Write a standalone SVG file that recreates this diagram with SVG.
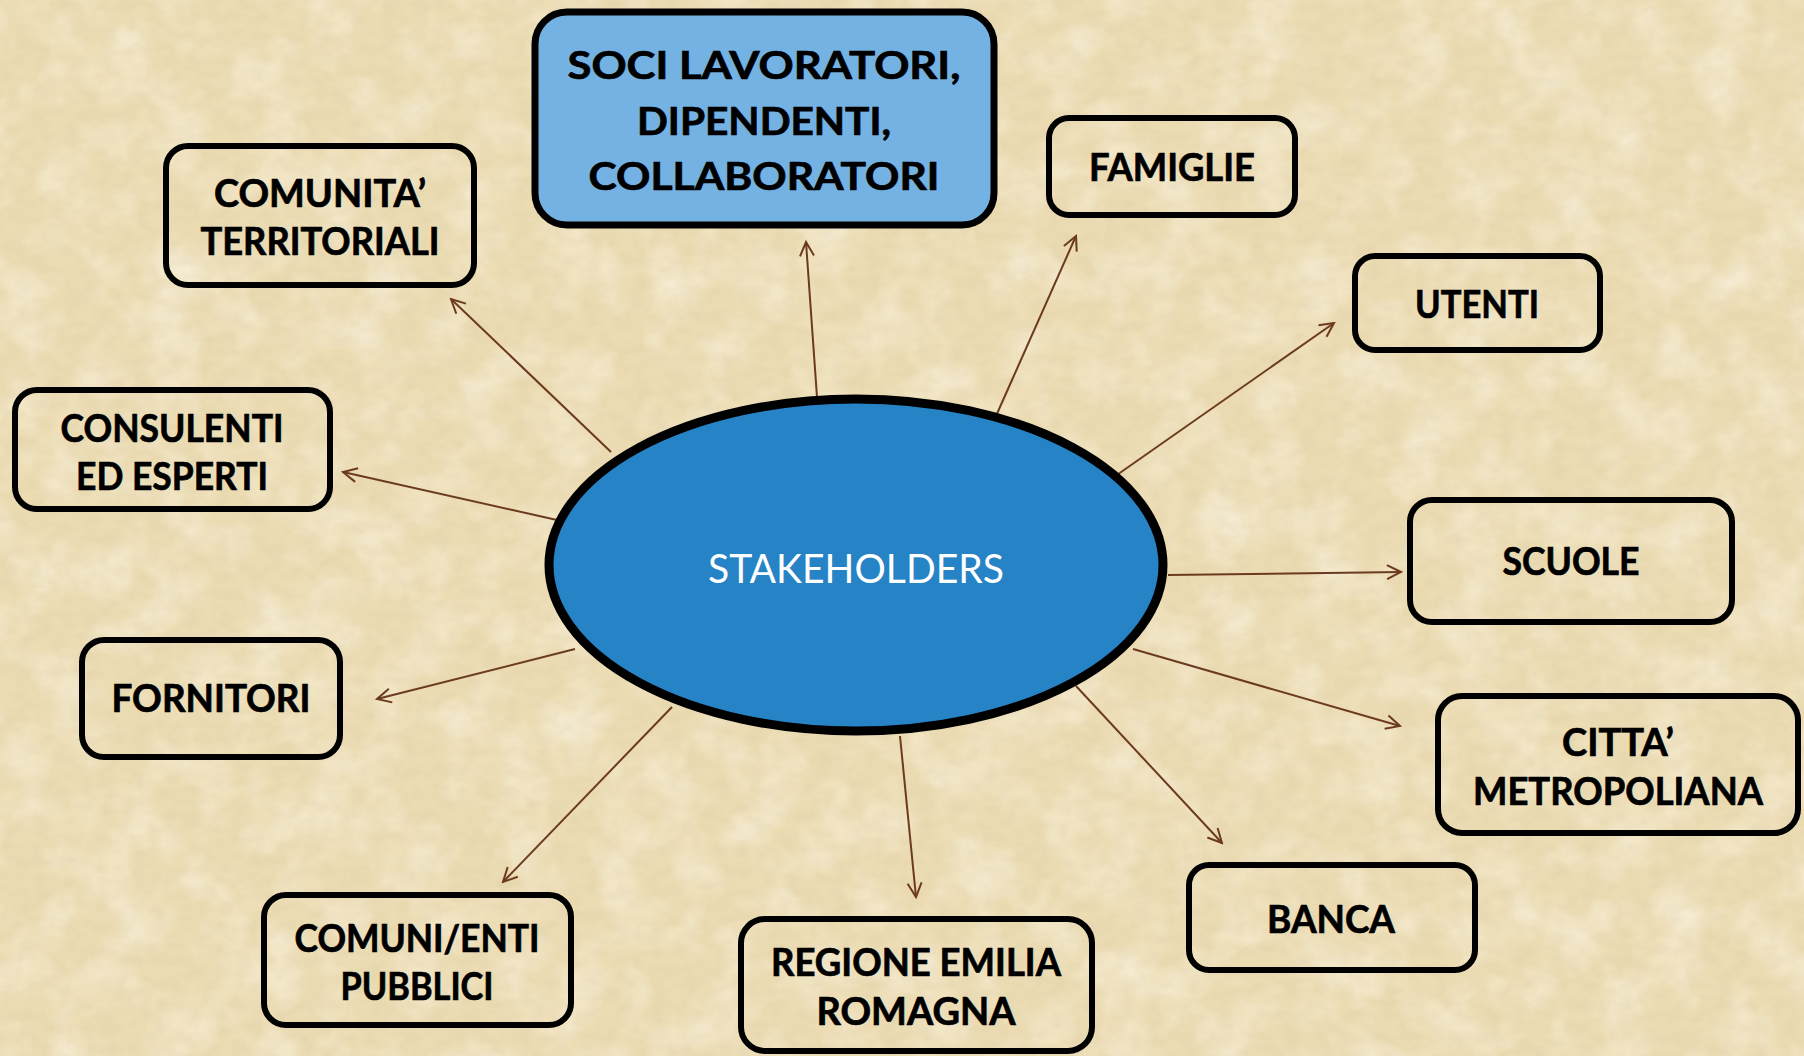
<svg xmlns="http://www.w3.org/2000/svg" width="1804" height="1056" viewBox="0 0 1804 1056">
<defs>
<style>
.box{fill:none;stroke:#000;stroke-width:6}
.lbl{font-family:Lato,"Open Sans","Liberation Sans",sans-serif;font-weight:700;font-size:38px;fill:#000;stroke:#000;stroke-width:0.7;text-anchor:middle}
.conn{stroke:#6b3a1f;stroke-width:2;fill:none;marker-end:url(#ah)}
</style>
<filter id="paper" x="0" y="0" width="100%" height="100%">
<feTurbulence type="fractalNoise" baseFrequency="0.06 0.09" numOctaves="4" seed="7" result="n"/>
<feColorMatrix in="n" type="matrix" values="0 0 0 0 0.6  0 0 0 0 0.5  0 0 0 0 0.3  0 0 0 -1.4 0.95" result="c"/>
<feComposite in="c" in2="SourceGraphic" operator="in"/>
</filter>
<filter id="paper2" x="0" y="0" width="100%" height="100%">
<feTurbulence type="fractalNoise" baseFrequency="0.02" numOctaves="3" seed="3" result="n"/>
<feColorMatrix in="n" type="matrix" values="0 0 0 0 1  0 0 0 0 0.97  0 0 0 0 0.88  0 0 0 -2 1.2" result="c"/>
<feComposite in="c" in2="SourceGraphic" operator="in"/>
</filter>
<marker id="ah" viewBox="0 0 18 18" refX="16" refY="9" markerWidth="18" markerHeight="18" orient="auto" markerUnits="userSpaceOnUse">
<path d="M2,2 L16,9 L2,16" fill="none" stroke="#6b3a1f" stroke-width="2"/>
</marker>
</defs>
<rect id="background" x="0" y="0" width="1804" height="1056" fill="#ecdcb3"/>
<rect x="0" y="0" width="1804" height="1056" fill="#ecdcb3" filter="url(#paper2)" opacity="0.5"/>
<rect x="0" y="0" width="1804" height="1056" fill="#ecdcb3" filter="url(#paper)" opacity="0.22"/>

<g id="connectors">
<line class="conn" x1="817" y1="397" x2="806" y2="242"/>
<line class="conn" x1="996" y1="416" x2="1076" y2="236"/>
<line class="conn" x1="1114" y1="477" x2="1334" y2="323"/>
<line class="conn" x1="1168" y1="575" x2="1401" y2="572"/>
<line class="conn" x1="1133" y1="649" x2="1400" y2="726"/>
<line class="conn" x1="1076" y1="686" x2="1222" y2="843"/>
<line class="conn" x1="900" y1="736" x2="916" y2="897"/>
<line class="conn" x1="672" y1="707" x2="503" y2="882"/>
<line class="conn" x1="575" y1="649" x2="377" y2="699"/>
<line class="conn" x1="557" y1="520" x2="343" y2="472"/>
<line class="conn" x1="611" y1="452" x2="451" y2="299"/>
</g>

<g id="stakeholders">
<ellipse cx="856" cy="565" rx="307" ry="166" fill="#2683c6" stroke="#000" stroke-width="9"/>
<text x="856" y="583" font-family="Lato,'Open Sans','Liberation Sans',sans-serif" font-size="41" fill="#fff" text-anchor="middle" textLength="296" lengthAdjust="spacingAndGlyphs">STAKEHOLDERS</text>
</g>

<g id="soci">
<rect x="535" y="12" width="459" height="213" rx="32" fill="#73b2e2" stroke="#000" stroke-width="7"/>
<text class="lbl" x="764" y="79" textLength="393" lengthAdjust="spacingAndGlyphs">SOCI LAVORATORI,</text>
<text class="lbl" x="764" y="135" textLength="254" lengthAdjust="spacingAndGlyphs">DIPENDENTI,</text>
<text class="lbl" x="764" y="190" textLength="351" lengthAdjust="spacingAndGlyphs">COLLABORATORI</text>
</g>

<g id="comunita">
<rect class="box" x="166" y="146" width="308" height="139" rx="22"/>
<text class="lbl" x="320" y="207" textLength="212" lengthAdjust="spacingAndGlyphs">COMUNITA’</text>
<text class="lbl" x="320" y="255" textLength="239" lengthAdjust="spacingAndGlyphs">TERRITORIALI</text>
</g>

<g id="famiglie">
<rect class="box" x="1049" y="118" width="246" height="97" rx="20"/>
<text class="lbl" x="1172" y="181" textLength="166" lengthAdjust="spacingAndGlyphs">FAMIGLIE</text>
</g>

<g id="utenti">
<rect class="box" x="1355" y="256" width="245" height="94" rx="20"/>
<text class="lbl" x="1477" y="318" textLength="124" lengthAdjust="spacingAndGlyphs">UTENTI</text>
</g>

<g id="consulenti">
<rect class="box" x="15" y="390" width="315" height="119" rx="22"/>
<text class="lbl" x="172" y="442" textLength="223" lengthAdjust="spacingAndGlyphs">CONSULENTI</text>
<text class="lbl" x="172" y="490" textLength="192" lengthAdjust="spacingAndGlyphs">ED ESPERTI</text>
</g>

<g id="scuole">
<rect class="box" x="1410" y="500" width="322" height="122" rx="22"/>
<text class="lbl" x="1571" y="575" textLength="137" lengthAdjust="spacingAndGlyphs">SCUOLE</text>
</g>

<g id="fornitori">
<rect class="box" x="82" y="640" width="258" height="117" rx="22"/>
<text class="lbl" x="211" y="712" textLength="199" lengthAdjust="spacingAndGlyphs">FORNITORI</text>
</g>

<g id="citta">
<rect class="box" x="1438" y="696" width="360" height="137" rx="24"/>
<text class="lbl" x="1618" y="756" textLength="112" lengthAdjust="spacingAndGlyphs">CITTA’</text>
<text class="lbl" x="1618" y="805" textLength="290" lengthAdjust="spacingAndGlyphs">METROPOLIANA</text>
</g>

<g id="banca">
<rect class="box" x="1189" y="865" width="286" height="105" rx="20"/>
<text class="lbl" x="1331" y="933" textLength="128" lengthAdjust="spacingAndGlyphs">BANCA</text>
</g>

<g id="comuni">
<rect class="box" x="264" y="895" width="307" height="130" rx="22"/>
<text class="lbl" x="417" y="952" textLength="245" lengthAdjust="spacingAndGlyphs">COMUNI/ENTI</text>
<text class="lbl" x="417" y="1000" textLength="153" lengthAdjust="spacingAndGlyphs">PUBBLICI</text>
</g>

<g id="regione">
<rect class="box" x="741" y="919" width="351" height="132" rx="24"/>
<text class="lbl" x="916" y="976" textLength="290" lengthAdjust="spacingAndGlyphs">REGIONE EMILIA</text>
<text class="lbl" x="916" y="1025" textLength="199" lengthAdjust="spacingAndGlyphs">ROMAGNA</text>
</g>
</svg>
